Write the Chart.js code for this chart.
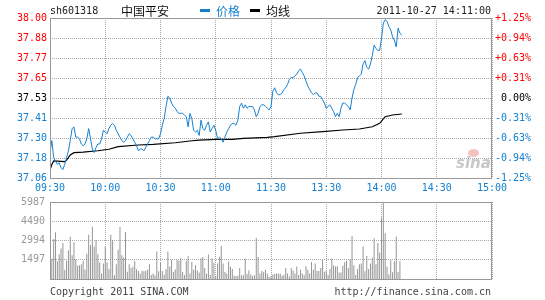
<!DOCTYPE html>
<html>
<head>
<meta charset="utf-8">
<script src="https://cdn.jsdelivr.net/npm/chart.js@4.4.0/dist/chart.umd.min.js"></script>
<style>
  body { margin: 0; background: #fff; }
  #wrap { position: relative; width: 545px; height: 300px; overflow: hidden; font-family: "DejaVu Sans Mono", monospace; font-size: 10px; }
  canvas { position: absolute; left: 0; }
  #priceChart { top: 0; }
  #volChart { top: 190px; }
  .t { position: absolute; white-space: nowrap; line-height: 12px; }
  .cjk { font-family: "Noto Sans CJK SC", sans-serif; font-size: 12px; line-height: 14px; }
  .bar { position: absolute; height: 3px; width: 10px; }
</style>
</head>
<body>
<div id="wrap">
  <canvas id="priceChart" width="545" height="200"></canvas>
  <canvas id="volChart" width="545" height="100"></canvas>

  <div class="t" style="left:50px;top:5px;color:#222;">sh601318</div>
  <div class="t cjk" style="left:121px;top:4px;color:#111;">中国平安</div>
  <div class="bar" style="left:200px;top:9px;background:#1580d0;"></div>
  <div class="t cjk" style="left:216px;top:4px;color:#1580d0;">价格</div>
  <div class="bar" style="left:250px;top:9px;background:#000;"></div>
  <div class="t cjk" style="left:266px;top:4px;color:#111;">均线</div>
  <div class="t" style="right:54px;top:5px;color:#222;">2011-10-27 14:11:00</div>

  <div style="position:absolute;left:468px;top:149px;width:11px;height:8px;border-radius:50%;background:#f4c0c0;"></div>
  <div class="t" style="left:456px;top:156px;font:italic bold 15px 'DejaVu Sans',sans-serif;line-height:15px;color:#c8c8c8;">sina</div>

  <div class="t" style="left:50px;top:286px;color:#444;">Copyright 2011 SINA.COM</div>
  <div class="t" style="right:54px;top:286px;color:#444;">http://finance.sina.com.cn</div>
</div>
<script>
// tick labels
const timeTicks = ['09:30', '10:00', '10:30', '11:00', '11:30', '13:30', '14:00', '14:30', '15:00'];
const priceTicks = ['38.00', '37.88', '37.77', '37.65', '37.53', '37.41', '37.30', '37.18', '37.06'];
const pctTicks = ['+1.25%', '+0.94%', '+0.63%', '+0.31%', '0.00%', '-0.31%', '-0.63%', '-0.94%', '-1.25%'];
const volTicks = ['5987', '4490', '2994', '1497'];

// one price per minute from 09:30 (index 120 = 11:30/13:00)
const prices = [
  37.21, 37.28, 37.18, 37.16, 37.14, 37.15, 37.12, 37.11, 37.14, 37.18,
  37.22, 37.28, 37.35, 37.36, 37.30, 37.30, 37.29, 37.26, 37.25, 37.26,
  37.29, 37.35, 37.29, 37.23, 37.21, 37.24, 37.26, 37.26, 37.29, 37.34,
  37.33, 37.32, 37.35, 37.37, 37.38, 37.37, 37.34, 37.32, 37.30, 37.28,
  37.27, 37.28, 37.30, 37.32, 37.31, 37.29, 37.27, 37.25, 37.22, 37.23,
  37.23, 37.22, 37.24, 37.26, 37.28, 37.30, 37.30, 37.29, 37.29, 37.29,
  37.32, 37.37, 37.41, 37.48, 37.54, 37.53, 37.50, 37.48, 37.47, 37.45,
  37.44, 37.44, 37.44, 37.43, 37.42, 37.36, 37.44, 37.41, 37.34, 37.33,
  37.34, 37.31, 37.40, 37.35, 37.34, 37.37, 37.39, 37.33, 37.35, 37.37,
  37.34, 37.29, 37.30, 37.29, 37.27, 37.30, 37.33, 37.35, 37.37, 37.38,
  37.38, 37.37, 37.40, 37.48, 37.50, 37.47, 37.49, 37.47, 37.48, 37.48,
  37.48, 37.46, 37.42, 37.44, 37.48, 37.49, 37.49, 37.48, 37.47, 37.46,
  37.48, 37.57, 37.59, 37.56, 37.55, 37.55, 37.56, 37.58, 37.59, 37.61,
  37.64, 37.65, 37.65, 37.66, 37.67, 37.69, 37.70, 37.68, 37.66, 37.63,
  37.60, 37.58, 37.56, 37.55, 37.56, 37.56, 37.54, 37.54, 37.52, 37.50,
  37.47, 37.48, 37.49, 37.47, 37.45, 37.42, 37.44, 37.42, 37.47, 37.50,
  37.50, 37.49, 37.48, 37.46, 37.53, 37.58, 37.61, 37.65, 37.66, 37.67,
  37.73, 37.75, 37.71, 37.70, 37.73, 37.78, 37.84, 37.82, 37.81, 37.81,
  37.88, 37.97, 37.99, 37.98, 37.95, 37.93, 37.89, 37.87, 37.83, 37.94,
  37.91, 37.90
];

// average price line, read at its bends
const avgMinutes = [0, 1, 2, 8, 9, 11, 13, 18, 26, 32, 37, 48, 56, 68, 77, 81, 90, 99, 105, 118, 122, 136, 148, 159, 168, 175, 179, 182, 186, 191];
const avgValues = [37.107, 37.14, 37.16, 37.156, 37.165, 37.195, 37.209, 37.212, 37.22, 37.229, 37.244, 37.254, 37.258, 37.267, 37.279, 37.283, 37.287, 37.287, 37.293, 37.299, 37.303, 37.323, 37.332, 37.342, 37.348, 37.361, 37.381, 37.42, 37.43, 37.436];

// volume per minute
const volumes = [
  713, 1568, 3113, 3635, 1378, 1925, 2376, 2804, 713, 1426,
  2210, 3279, 1853, 2851, 1544, 1022, 1069, 1140, 1426, 713,
  1972, 3445, 2637, 4063, 2519, 3041, 1925, 1283, 428, 1212,
  2495, 1283, 784, 3445, 3041, 285, 1140, 2281, 4039, 1853,
  1663, 3659, 570, 1140, 855, 950, 1426, 760, 618, 428,
  642, 594, 642, 737, 1140, 309, 428, 285, 2138, 594,
  1259, 618, 333, 760, 2138, 974, 1497, 547, 737, 1497,
  1426, 1616, 547, 309, 1426, 1782, 428, 1331, 713, 1069,
  665, 499, 1616, 1711, 855, 404, 1901, 309, 1616, 1259,
  238, 1212, 1734, 2566, 1212, 547, 428, 1354, 950, 784,
  261, 238, 261, 855, 285, 285, 1568, 380, 689, 356,
  238, 285, 3208, 1711, 428, 618, 523, 713, 428, 190,
  190, 356, 380, 428, 404, 428, 261, 333, 855, 428,
  190, 855, 665, 428, 974, 309, 713, 428, 285, 998,
  713, 428, 1331, 713, 1212, 618, 618, 855, 1521, 570,
  618, 309, 784, 1568, 1069, 974, 998, 499, 499, 1022,
  1307, 1426, 855, 1544, 3350, 1069, 309, 784, 1140, 1212,
  2519, 594, 1782, 784, 1212, 1663, 3160, 1140, 2804, 2043,
  4776, 5987, 3564, 950, 356, 1449, 523, 1378, 3279, 547,
  1378
];

const BLUE = '#1580d0';
const RED = '#ff0000';
const GRID = '#a8a8a8';

Chart.defaults.font.family = '"DejaVu Sans Mono", monospace';
Chart.defaults.font.size = 10;

const frame = {
  id: 'frame',
  afterDraw(chart) {
    const a = chart.chartArea, c = chart.ctx;
    c.save();
    c.strokeStyle = '#999';
    c.lineWidth = 1;
    c.strokeRect(Math.round(a.left) + 0.5, Math.round(a.top) + 0.5,
      Math.round(a.right - a.left) - 1, Math.round(a.bottom - a.top));
    c.restore();
  }
};

const yHi = +priceTicks[0], yLo = +priceTicks[priceTicks.length - 1];
const pHi = parseFloat(pctTicks[0]), pLo = parseFloat(pctTicks[pctTicks.length - 1]);
const nT = priceTicks.length - 1;
const xMax = (timeTicks.length - 1) * 30;

function timeAxis(showLabels) {
  return {
    type: 'linear', min: 0, max: xMax, offset: false,
    afterBuildTicks: s => { s.ticks = timeTicks.map((t, k) => ({ value: k * 30 })); },
    afterFit: s => { s.height = showLabels ? 22 : 0; },
    grid: { color: GRID, lineWidth: 1, drawTicks: false, offset: false },
    border: { display: false, dash: [1, 1] },
    ticks: {
      display: showLabels, autoSkip: false, maxRotation: 0, padding: 4,
      color: BLUE, callback: (v, k) => timeTicks[k]
    }
  };
}

new Chart(document.getElementById('priceChart'), {
  type: 'line',
  data: {
    datasets: [
      {
        label: '价格',
        data: prices.map((p, i) => ({ x: i, y: p })),
        borderColor: BLUE, borderWidth: 1, pointRadius: 0, tension: 0
      },
      {
        label: '均线',
        data: avgMinutes.map((m, k) => ({ x: m, y: avgValues[k] })),
        borderColor: '#000', borderWidth: 1.2, pointRadius: 0, tension: 0
      }
    ]
  },
  options: {
    responsive: false, animation: false, devicePixelRatio: 1, events: [],
    layout: { padding: { top: 18, right: 14, left: 0, bottom: 0 } },
    plugins: { legend: { display: false }, tooltip: { enabled: false } },
    scales: {
      x: timeAxis(true),
      y: {
        type: 'linear', position: 'left', min: yLo, max: yHi,
        afterBuildTicks: s => { s.ticks = priceTicks.map((t, k) => ({ value: yLo + k * (yHi - yLo) / nT })); },
        afterFit: s => { s.width = 50; },
        grid: { color: GRID, lineWidth: 1, drawTicks: false },
        border: { display: false, dash: [1, 1] },
        ticks: {
          padding: 3,
          color: c => c.index > 4 ? RED : (c.index === 4 ? '#000' : BLUE),
          callback: (v, k) => priceTicks[nT - k]
        }
      },
      y2: {
        type: 'linear', position: 'right', min: pLo, max: pHi,
        afterBuildTicks: s => { s.ticks = pctTicks.map((t, k) => ({ value: pLo + k * (pHi - pLo) / nT })); },
        afterFit: s => { s.width = 39; },
        grid: { display: false, drawTicks: false },
        border: { display: false },
        ticks: {
          padding: 0, crossAlign: 'far',
          color: c => c.index > 4 ? RED : (c.index === 4 ? '#000' : BLUE),
          callback: (v, k) => pctTicks[nT - k]
        }
      }
    }
  },
  plugins: [frame]
});

new Chart(document.getElementById('volChart'), {
  type: 'bar',
  data: {
    datasets: [{
      label: '成交量',
      data: volumes.map((v, i) => ({ x: i, y: v })),
      backgroundColor: '#959595', borderWidth: 0, barThickness: 1, inflateAmount: 0
    }]
  },
  options: {
    responsive: false, animation: false, devicePixelRatio: 1, events: [],
    layout: { padding: { top: 12, right: 53, left: 0, bottom: 4 } },
    plugins: { legend: { display: false }, tooltip: { enabled: false } },
    scales: {
      x: timeAxis(false),
      y: {
        type: 'linear', position: 'left', min: 0, max: +volTicks[0],
        afterBuildTicks: s => { s.ticks = volTicks.slice().reverse().map(t => ({ value: +t })); },
        afterFit: s => { s.width = 50; },
        grid: { color: GRID, lineWidth: 1, drawTicks: false },
        border: { display: false, dash: [1, 1] },
        ticks: {
          padding: 5, color: '#999',
          callback: (v, k) => volTicks[volTicks.length - 1 - k]
        }
      }
    }
  },
  plugins: [frame]
});
</script>
</body>
</html>
